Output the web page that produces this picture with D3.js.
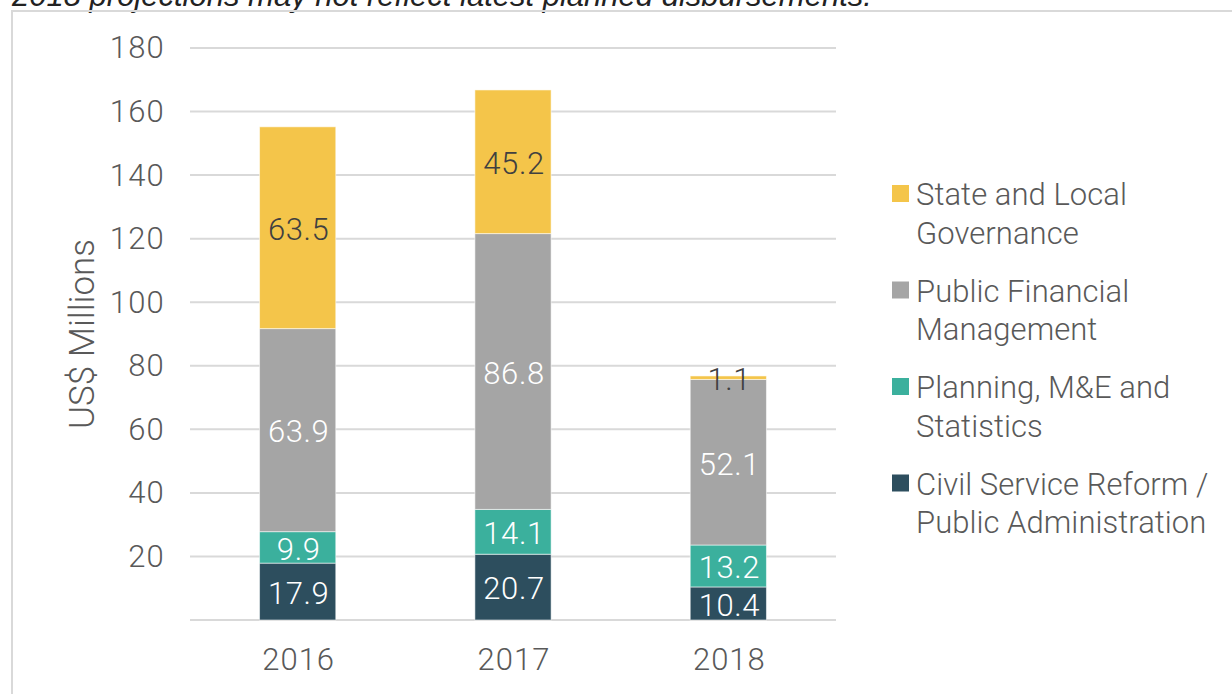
<!DOCTYPE html>
<html>
<head>
<meta charset="utf-8">
<script src="https://cdn.jsdelivr.net/npm/d3@7"></script>
<style>
    body { margin: 0; background: #fff; }
    svg { display: block; font-family: Roboto, "Helvetica Neue", Arial, sans-serif; }
</style>
</head>
<body>
<svg id="chart" width="1232" height="694"></svg>
<script>
var years = ["2016", "2017", "2018"];
var seriesKeys = ["civil", "planning", "pfm", "state"];
var civilService = [17.9, 20.7, 10.4];
var planning = [9.9, 14.1, 13.2];
var pfm = [63.9, 86.8, 52.1];
var stateLocal = [63.5, 45.2, 1.1];
var yTicks = [0, 20, 40, 60, 80, 100, 120, 140, 160, 180];
var legendKeys = ["state", "pfm", "planning", "civil"];
var legendLines = [
    ["State and Local", "Governance"],
    ["Public Financial", "Management"],
    ["Planning, M&E and", "Statistics"],
    ["Civil Service Reform /", "Public Administration"]
];
var noteText = "2018 projections may not reflect latest planned disbursements.";

var colors = { civil: "#2d4e5e", planning: "#3bb09d", pfm: "#a5a5a5", state: "#f4c54a" };
var labelColors = { civil: "#fff", planning: "#fff", pfm: "#fff", state: "#404040" };
var textGray = "#595959";
var fontStack = "Roboto, 'Helvetica Neue', Arial, sans-serif";
var numSize = 31;

var rows = years.map(function(year, i) {
    return { year: year, civil: civilService[i], planning: planning[i], pfm: pfm[i], state: stateLocal[i] };
});

var svg = d3.select("#chart");

// note above the box, mostly cut off at the top edge (as in the source)
svg.append("text")
    .attr("x", 12)
    .attr("y", 6)
    .attr("font-family", "'Liberation Sans', Arial, sans-serif")
    .attr("font-style", "italic")
    .attr("font-size", 31)
    .attr("fill", "#222")
    .text(noteText);

// frame of the chart area
svg.append("rect")
    .attr("x", 12)
    .attr("y", 11)
    .attr("width", 1400)
    .attr("height", 900)
    .attr("fill", "none")
    .attr("stroke", "#d9d9d9")
    .attr("stroke-width", 2);

var x = d3.scaleBand()
    .domain(years)
    .range([190, 836])
    .paddingInner(0.646)
    .paddingOuter(0.323);

var y = d3.scaleLinear()
    .domain([0, 180])
    .range([620, 48]);

var grid = svg.append("g").attr("class", "grid");
grid.selectAll("line")
    .data(yTicks)
    .enter()
    .append("line")
    .attr("x1", 190)
    .attr("x2", 836)
    .attr("y1", function(d) { return y(d); })
    .attr("y2", function(d) { return y(d); })
    .attr("stroke", "#d9d9d9")
    .attr("stroke-width", 2);

var yAxis = d3.axisLeft(y)
    .tickValues(yTicks.filter(function(d) { return d > 0; }))
    .tickSize(0)
    .tickPadding(0);

var yAxisG = svg.append("g")
    .attr("transform", "translate(165,0)")
    .call(yAxis);
yAxisG.select(".domain").remove();
yAxisG.selectAll("text")
    .attr("font-family", fontStack)
    .attr("font-weight", 300)
    .attr("font-size", numSize)
    .attr("letter-spacing", 1.2)
    .attr("fill", textGray);

var xAxis = d3.axisBottom(x).tickSize(0).tickPadding(0);
var xAxisG = svg.append("g")
    .attr("transform", "translate(1,648)")
    .call(xAxis);
xAxisG.select(".domain").remove();
xAxisG.selectAll("text")
    .attr("font-family", fontStack)
    .attr("font-weight", 300)
    .attr("font-size", numSize)
    .attr("letter-spacing", 1)
    .attr("fill", textGray);

svg.append("text")
    .attr("transform", "translate(94,334) rotate(-90)")
    .attr("text-anchor", "middle")
    .attr("font-weight", 300)
    .attr("font-size", 35)
    .attr("fill", textGray)
    .text("US$ Millions");

var stacked = d3.stack().keys(seriesKeys)(rows);

var layers = svg.append("g").attr("class", "bars")
    .selectAll("g")
    .data(stacked)
    .enter()
    .append("g")
    .attr("fill", function(d) { return colors[d.key]; });

layers.selectAll("rect")
    .data(function(d) { return d; })
    .enter()
    .append("rect")
    .attr("x", function(d) { return x(d.data.year); })
    .attr("width", x.bandwidth())
    .attr("y", function(d) { return y(d[1]); })
    .attr("height", function(d) { return y(d[0]) - y(d[1]); })
    .attr("stroke", "#ffffff")
    .attr("stroke-opacity", 0.55)
    .attr("stroke-width", 1);

layers.each(function(series) {
    d3.select(this).selectAll("text")
        .data(series)
        .enter()
        .append("text")
        .attr("x", function(d) { return x(d.data.year) + x.bandwidth() / 2 + 1; })
        .attr("y", function(d) { return (y(d[0]) + y(d[1])) / 2 + 1.5; })
        .attr("dy", "0.35em")
        .attr("text-anchor", "middle")
        .attr("font-weight", 300)
        .attr("font-size", numSize)
        .attr("letter-spacing", 0.6)
        .attr("fill", labelColors[series.key])
        .text(function(d) { return d3.format(".1f")(d.data[series.key]); });
});

var legend = svg.append("g").attr("class", "legend")
    .selectAll("g")
    .data(legendKeys)
    .enter()
    .append("g")
    .attr("transform", function(d, i) { return "translate(892," + (205 + i * 96.5) + ")"; });

legend.append("rect")
    .attr("x", 0)
    .attr("y", -20)
    .attr("width", 17)
    .attr("height", 17)
    .attr("fill", function(d) { return colors[d]; });

legend.append("text")
    .attr("x", 24)
    .attr("font-weight", 300)
    .attr("font-size", numSize)
    .attr("letter-spacing", 0.05)
    .attr("fill", textGray)
    .selectAll("tspan")
    .data(function(d, i) { return legendLines[i]; })
    .enter()
    .append("tspan")
    .attr("x", 24)
    .attr("dy", function(d, i) { return i === 0 ? 0 : 38.5; })
    .text(function(d) { return d; });
</script>
</body>
</html>
